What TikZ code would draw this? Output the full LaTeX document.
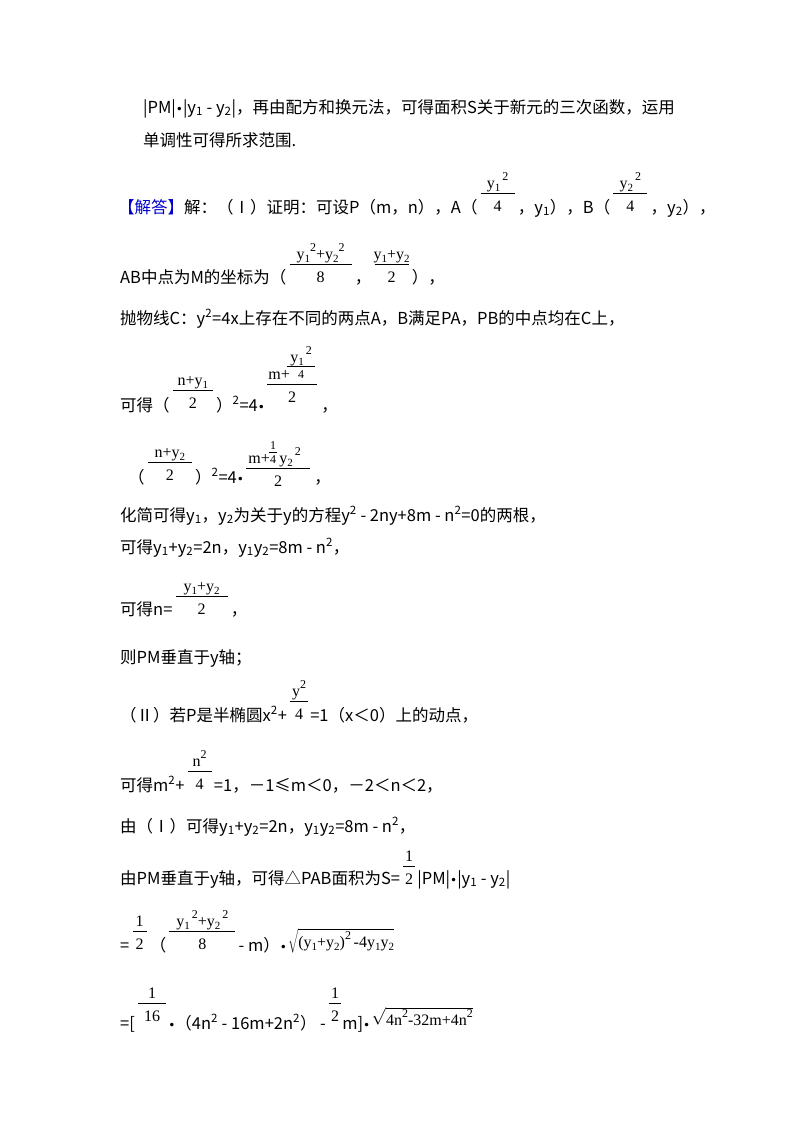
\documentclass[tikz,border=0pt]{standalone}
\usepackage{fontspec}
\usetikzlibrary{calc}
\setmainfont{Noto Sans CJK SC}
\newfontfamily\mf{Liberation Serif}
\newfontfamily\djvfont{DejaVu Sans}
\newcommand\sbs[1]{\textsubscript{#1}}
\newcommand\sps[1]{\textsuperscript{#1}}
\newcommand\bu{{\djvfont\fontsize{12}{12}\selectfont •}}
\newcommand\my[1]{y\raisebox{-0.45ex}{\fontsize{11}{11}\selectfont#1}}
\newcommand\pw[1]{\raisebox{1.0ex}{\fontsize{12}{12}\selectfont#1}}
\newcommand\frr[6]{%
 \draw[line width=0.7pt] ($(#1.east |- 0,#3)+(3,0)$) coordinate (#6-a) -- ++(#2,0) coordinate (#6);
 \node[fm,anchor=base] at ($(#6-a)!0.5!(#6)+(0,-5)$) {#4};
 \node[fm,anchor=base] at ($(#6-a)!0.5!(#6)+(0,18)$) {#5};}
\begin{document}
\begin{tikzpicture}[x=1pt,y=-1pt,
  t/.style={anchor=base west,inner sep=0,font=\fontsize{16.5}{18}\selectfont},
  fm/.style={inner sep=0,font=\mf\fontsize{16}{17}\selectfont}]
\useasboundingbox (0,0) rectangle (800,1132);
\fill[white] (0,0) rectangle (800,1132);
\node[t] (l1) at (143,113) {|PM|\bu|y\sbs1 - y\sbs2|，再由配方和换元法，可得面积S关于新元的三次函数，运用};
\node[t] (l2) at (143,146) {单调性可得所求范围.};
% line 3
\node[t] (l3) at (118,213) {{\color{blue!80!black}【解答】}解：（Ⅰ）证明：可设P（m，n），A（};
\frr{l3}{34}{193}{\my1\pw{\,2}}{4}{f1}
\node[t] (l3b) at ($(f1 |- 0,213)+(3,0)$) {，y\sbs1），B（};
\frr{l3b}{34}{193}{\my2\pw{\,2}}{4}{f2}
\node[t] (l3c) at ($(f2 |- 0,213)+(3,0)$) {，y\sbs2），};
% AB line
\node[t] (l4) at (120,283) {AB中点为M的坐标为（};
\frr{l4}{62}{264}{\my1\pw{2}+\my2\pw{2}}{8}{f3}
\node[t] (l4b) at ($(f3 |- 0,283)+(3,0)$) {，};
\frr{l4b}{34}{264}{\my1+\my2}{2}{f4}
\node[t] (l4c) at ($(f4 |- 0,283)+(3,0)$) {），};
\node[t] (l5) at (120,324) {抛物线C：y\sps2=4x上存在不同的两点A，B满足PA，PB的中点均在C上，};
% 可得 line
\node[t] (l6) at (120,411) {可得（};
\frr{l6}{40}{390}{n+\my1}{2}{f5}
\node[t] (l6b) at ($(f5 |- 0,411)+(3,0)$) {）\sps2=4\bu};
\begin{scope}[shift={(l6b.east |- 0,0)}]
\draw[line width=0.7pt] (2,384)--(52,384);
\node[fm,anchor=base west] at (3,379) {m+};
\draw[line width=0.6pt] (22,366)--(50,366);
\node[fm,anchor=base] at (36,362) {\my1\pw{\,2}};
\node[fm,anchor=base,font=\mf\fontsize{12}{12}\selectfont] at (36,378) {4};
\node[fm,anchor=base] at (27,402) {2};
\coordinate (f6) at (52,0);
\end{scope}
\node[t] (l6c) at ($(f6 |- 0,411)+(4,0)$) {，};
% next line
\node[t] (l7) at (128,483) {（};
\frr{l7}{44}{462}{n+\my2}{2}{f7}
\node[t] (l7b) at ($(f7 |- 0,483)+(3,0)$) {）\sps2=4\bu};
\begin{scope}[shift={(l7b.east |- 0,0)}]
\draw[line width=0.7pt] (2,468)--(66,468);
\node[fm,anchor=base west] at (4,463) {m+};
\draw[line width=0.5pt] (25,452)--(33,452);
\node[fm,anchor=base,font=\mf\fontsize{12}{12}\selectfont] at (29,449) {1};
\node[fm,anchor=base,font=\mf\fontsize{12}{12}\selectfont] at (29,463) {4};
\node[fm,anchor=base west] at (35,463) {\my2\pw{\,2}};
\node[fm,anchor=base] at (34,486) {2};
\coordinate (f8) at (66,0);
\end{scope}
\node[t] (l7c) at ($(f8 |- 0,483)+(4,0)$) {，};
\node[t] (l8) at (120,521) {化简可得y\sbs1，y\sbs2为关于y的方程y\sps2 - 2ny+8m - n\sps2=0的两根，};
\node[t] (l9) at (120,553) {可得y\sbs1+y\sbs2=2n，y\sbs1y\sbs2=8m - n\sps2，};
\node[t] (l10) at (120,615) {可得n=};
\frr{l10}{52}{596}{\my1+\my2}{2}{f9}
\node[t] (l10b) at ($(f9 |- 0,615)+(3,0)$) {，};
\node[t] (l11) at (120,663) {则PM垂直于y轴；};
\node[t] (l12) at (120,721) {（Ⅱ）若P是半椭圆x\sps2+};
\frr{l12}{18}{701}{y\pw{2}}{4}{f10}
\node[t] (l12b) at ($(f10 |- 0,721)+(2,0)$) {=1（x＜0）上的动点，};
\node[t] (l13) at (120,791) {可得m\sps2+};
\frr{l13}{24}{771}{n\pw{2}}{4}{f11}
\node[t] (l13b) at ($(f11 |- 0,791)+(2,0)$) {=1，－1≤m＜0，－2＜n＜2，};
\node[t] (l14) at (120,832) {由（Ⅰ）可得y\sbs1+y\sbs2=2n，y\sbs1y\sbs2=8m - n\sps2，};
\node[t] (l15) at (120,884) {由PM垂直于y轴，可得△PAB面积为S=};
\frr{l15}{12}{866}{1}{2}{f12}
\node[t] (l15b) at ($(f12 |- 0,884)+(2,0)$) {|PM|\bu|y\sbs1 - y\sbs2|};
% =1/2 line
\node[t] (l16) at (120,951) {=};
\frr{l16}{14}{931}{1}{2}{f13}
\node[t] (l16b) at ($(f13 |- 0,951)+(3,0)$) {（};
\frr{l16b}{66}{931}{\my1\pw{\,2}+\my2\pw{\,2}}{8}{f14}
\node[t] (l16c) at ($(f14 |- 0,951)+(3,0)$) {- m）\bu};
\node[fm,anchor=base west] (sq1) at ($(l16c.east |- 0,947)+(1,0)$) {$\sqrt{\mbox{\mf(\my1+\my2)\pw{2}\,-4\my1\my2}}$};
% last line
\node[t] (l17) at (120,1029) {=[};
\frr{l17}{28}{1003}{1}{16}{f15}
\node[t] (l17b) at ($(f15 |- 0,1029)+(2,0)$) {\bu（4n\sps2 - 16m+2n\sps2） -};
\frr{l17b}{12}{1003}{1}{2}{f16}
\node[t] (l17c) at ($(f16 |- 0,1029)+(1,0)$) {m]\bu};
\node[fm,anchor=base west] (sq2) at ($(l17c.east |- 0,1025)+(1,0)$) {$\sqrt{\mbox{\mf 4n\pw{2}-32m+4n\pw{2}}}$};
\end{tikzpicture}
\end{document}
